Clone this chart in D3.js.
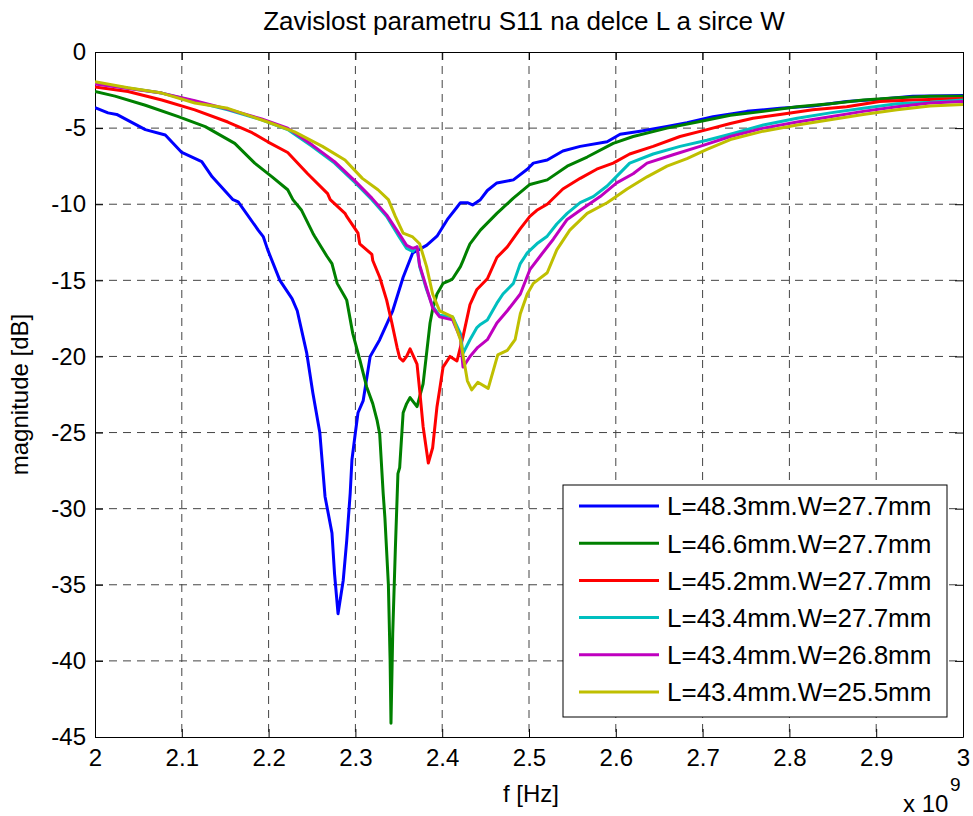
<!DOCTYPE html>
<html>
<head>
<meta charset="utf-8">
<script src="https://d3js.org/d3.v7.min.js"></script>
<style>
  body { margin: 0; background: #fff; }
  svg text { font-family: "Liberation Sans", Arial, sans-serif; fill: #000; }
</style>
</head>
<body>
<svg id="chart" width="973" height="816"></svg>
<script>
  // S11 traces: [f in GHz, magnitude in dB]
  const curveL483W277 = [
    [2.000,-3.66],[2.015,-4.0],[2.025,-4.1],[2.058,-5.1],[2.081,-5.45],[2.100,-6.6],[2.123,-7.2],
    [2.135,-8.2],[2.159,-9.7],[2.165,-9.85],[2.188,-11.7],[2.194,-12.15],[2.199,-13.0],[2.213,-15.0],
    [2.227,-16.2],[2.233,-17.0],[2.244,-19.8],[2.251,-22.4],[2.259,-25.0],[2.265,-29.2],[2.273,-31.6],
    [2.276,-34.3],[2.280,-36.9],[2.286,-34.7],[2.290,-32.1],[2.294,-29.0],[2.296,-26.8],[2.300,-25.0],
    [2.303,-23.7],[2.309,-22.9],[2.317,-20.0],[2.328,-18.9],[2.343,-17.0],[2.355,-14.8],[2.366,-13.2],
    [2.382,-12.7],[2.394,-12.1],[2.406,-11.0],[2.417,-10.2],[2.421,-9.9],[2.429,-9.9],[2.435,-10.05],
    [2.444,-9.7],[2.452,-9.1],[2.463,-8.6],[2.482,-8.4],[2.498,-7.7],[2.505,-7.3],[2.521,-7.1],
    [2.539,-6.5],[2.559,-6.2],[2.590,-5.9],[2.605,-5.4],[2.628,-5.2],[2.659,-4.9],[2.682,-4.65],
    [2.712,-4.25],[2.751,-3.9],[2.789,-3.7],[2.827,-3.55],[2.866,-3.25],[2.904,-3.1],[2.942,-2.9],[3.000,-2.85]
  ];
  const curveL466W277 = [
    [2.000,-2.6],[2.023,-2.9],[2.058,-3.5],[2.096,-4.25],[2.127,-4.9],[2.161,-6.0],[2.184,-7.3],
    [2.204,-8.2],[2.222,-9.05],[2.228,-9.7],[2.238,-10.4],[2.251,-11.9],[2.253,-12.1],[2.267,-13.4],
    [2.273,-13.9],[2.279,-15.2],[2.288,-16.1],[2.290,-16.3],[2.297,-18.5],[2.305,-20.2],[2.313,-22.0],
    [2.320,-23.1],[2.325,-24.2],[2.328,-25.1],[2.332,-29.0],[2.334,-30.6],[2.338,-35.0],[2.340,-40.0],
    [2.341,-44.1],[2.343,-38.2],[2.346,-32.7],[2.349,-27.7],[2.351,-27.3],[2.354,-24.6],[2.355,-23.7],
    [2.359,-23.1],[2.363,-22.7],[2.371,-23.3],[2.378,-21.8],[2.386,-17.8],[2.389,-16.9],[2.394,-15.9],
    [2.397,-15.6],[2.401,-15.2],[2.409,-15.0],[2.412,-14.9],[2.421,-14.1],[2.424,-13.7],[2.429,-13.0],
    [2.432,-12.6],[2.444,-11.7],[2.463,-10.6],[2.482,-9.6],[2.501,-8.7],[2.521,-8.4],[2.544,-7.5],
    [2.567,-6.9],[2.597,-6.0],[2.620,-5.55],[2.659,-5.0],[2.694,-4.6],[2.732,-4.15],[2.770,-3.9],
    [2.809,-3.6],[2.847,-3.4],[2.885,-3.15],[2.924,-3.0],[2.962,-2.9],[3.000,-2.9]
  ];
  const curveL452W277 = [
    [2.000,-2.3],[2.038,-2.6],[2.077,-3.15],[2.115,-3.8],[2.153,-4.6],[2.181,-5.3],[2.199,-5.9],
    [2.222,-6.6],[2.245,-8.0],[2.268,-9.3],[2.271,-9.7],[2.288,-10.6],[2.290,-10.8],[2.303,-11.9],
    [2.305,-12.6],[2.319,-13.3],[2.320,-13.7],[2.328,-14.8],[2.336,-16.3],[2.342,-17.8],[2.348,-19.4],
    [2.351,-20.1],[2.355,-20.3],[2.359,-20.0],[2.363,-19.5],[2.371,-20.5],[2.374,-22.2],[2.378,-24.6],
    [2.384,-27.0],[2.389,-26.0],[2.394,-23.3],[2.397,-22.2],[2.401,-20.7],[2.409,-20.0],[2.417,-20.3],
    [2.424,-18.7],[2.432,-16.6],[2.440,-15.6],[2.452,-14.9],[2.463,-13.5],[2.475,-12.8],[2.490,-11.6],
    [2.501,-10.8],[2.509,-10.4],[2.521,-10.0],[2.539,-9.0],[2.559,-8.3],[2.578,-7.7],[2.597,-7.3],
    [2.616,-6.7],[2.643,-6.2],[2.674,-5.55],[2.705,-5.1],[2.732,-4.7],[2.758,-4.35],[2.789,-4.1],
    [2.827,-3.8],[2.866,-3.6],[2.904,-3.25],[2.942,-3.15],[3.000,-3.05]
  ];
  const curveL434W277 = [
    [2.000,-2.05],[2.077,-2.7],[2.115,-3.25],[2.153,-3.8],[2.192,-4.45],[2.222,-5.1],[2.250,-6.2],
    [2.276,-7.3],[2.300,-8.6],[2.319,-9.7],[2.336,-10.8],[2.351,-12.2],[2.359,-12.9],[2.366,-13.1],
    [2.371,-12.8],[2.374,-14.1],[2.382,-15.6],[2.389,-16.7],[2.397,-17.3],[2.412,-17.4],[2.421,-18.5],
    [2.424,-19.8],[2.432,-18.9],[2.440,-18.1],[2.444,-17.9],[2.452,-17.6],[2.463,-16.5],[2.470,-15.9],
    [2.482,-15.2],[2.490,-13.9],[2.498,-13.2],[2.509,-12.6],[2.521,-12.1],[2.532,-11.3],[2.544,-10.6],
    [2.559,-9.9],[2.574,-9.5],[2.590,-8.8],[2.597,-8.4],[2.616,-7.3],[2.643,-6.7],[2.674,-6.2],
    [2.705,-5.8],[2.735,-5.35],[2.770,-4.8],[2.809,-4.35],[2.847,-4.0],[2.885,-3.7],[2.924,-3.4],
    [2.962,-3.3],[3.000,-3.15]
  ];
  const curveL434W268 = [
    [2.000,-2.1],[2.077,-2.7],[2.115,-3.2],[2.153,-3.75],[2.192,-4.4],[2.222,-5.0],[2.250,-6.1],
    [2.276,-7.2],[2.300,-8.5],[2.319,-9.6],[2.336,-10.7],[2.351,-12.0],[2.359,-12.7],[2.366,-12.9],
    [2.371,-12.8],[2.374,-14.0],[2.382,-15.5],[2.389,-16.8],[2.397,-17.4],[2.412,-17.6],[2.421,-18.8],
    [2.424,-20.7],[2.432,-20.0],[2.441,-19.4],[2.452,-18.9],[2.463,-17.8],[2.475,-17.0],[2.490,-15.9],
    [2.501,-14.3],[2.513,-13.4],[2.528,-12.3],[2.544,-11.0],[2.559,-10.4],[2.582,-9.5],[2.601,-8.6],
    [2.620,-8.0],[2.636,-7.3],[2.666,-6.75],[2.697,-6.2],[2.732,-5.55],[2.770,-5.0],[2.809,-4.6],
    [2.847,-4.25],[2.885,-3.9],[2.924,-3.6],[2.962,-3.35],[3.000,-3.25]
  ];
  const curveL434W255 = [
    [2.000,-1.95],[2.038,-2.35],[2.077,-2.7],[2.115,-3.35],[2.153,-3.7],[2.199,-4.6],[2.230,-5.25],
    [2.262,-6.2],[2.288,-7.1],[2.308,-8.3],[2.326,-9.05],[2.338,-9.7],[2.346,-10.8],[2.355,-11.9],
    [2.366,-12.15],[2.374,-12.6],[2.382,-14.1],[2.389,-15.9],[2.397,-17.0],[2.412,-17.4],[2.421,-18.9],
    [2.429,-21.6],[2.434,-22.2],[2.441,-21.7],[2.453,-22.1],[2.459,-20.9],[2.464,-19.9],[2.475,-19.6],
    [2.484,-18.9],[2.490,-17.2],[2.498,-15.9],[2.505,-15.2],[2.521,-14.5],[2.532,-13.0],[2.547,-11.7],
    [2.567,-10.6],[2.590,-9.9],[2.613,-9.0],[2.636,-8.2],[2.659,-7.5],[2.682,-7.0],[2.705,-6.4],
    [2.732,-5.75],[2.770,-5.2],[2.809,-4.8],[2.847,-4.45],[2.885,-4.1],[2.924,-3.8],[2.962,-3.55],[3.000,-3.45]
  ];

  const legendLabels = [
    "L=48.3mm.W=27.7mm",
    "L=46.6mm.W=27.7mm",
    "L=45.2mm.W=27.7mm",
    "L=43.4mm.W=27.7mm",
    "L=43.4mm.W=26.8mm",
    "L=43.4mm.W=25.5mm"
  ];
  const xTicks = [2, 2.1, 2.2, 2.3, 2.4, 2.5, 2.6, 2.7, 2.8, 2.9, 3];
  const yTicks = [0, -5, -10, -15, -20, -25, -30, -35, -40, -45];

  const allCurves = [curveL483W277, curveL466W277, curveL452W277, curveL434W277, curveL434W268, curveL434W255];
  const lineColors = ["#0000ff", "#008000", "#ff0000", "#00bfbf", "#bf00bf", "#bfbf00"];

  const svg = d3.select("#chart");
  const margin = {left: 95, right: 10, top: 52, bottom: 79};
  const width = +svg.attr("width") - margin.left - margin.right;
  const height = +svg.attr("height") - margin.top - margin.bottom;

  const x = d3.scaleLinear().domain([2, 3]).range([0, width]);
  const y = d3.scaleLinear().domain([-45, 0]).range([height, 0]);

  const g = svg.append("g")
    .attr("transform", "translate(" + margin.left + "," + margin.top + ")");

  // dashed grid (inner ticks only, edges are the frame)
  g.append("g").selectAll("line")
    .data(xTicks.filter(d => d > 2 && d < 3))
    .enter().append("line")
    .attr("x1", d => x(d)).attr("x2", d => x(d))
    .attr("y1", 0).attr("y2", height)
    .attr("stroke", "#444").attr("stroke-dasharray", "8,6");
  g.append("g").selectAll("line")
    .data(yTicks.filter(d => d < 0 && d > -45))
    .enter().append("line")
    .attr("x1", 0).attr("x2", width)
    .attr("y1", d => y(d)).attr("y2", d => y(d))
    .attr("stroke", "#444").attr("stroke-dasharray", "8,6");

  // axes on all four sides, ticks pointing in
  const fmt = d => String(d);
  const axisFont = sel => sel.attr("font-size", 24).attr("font-family", "Liberation Sans, Arial, sans-serif");

  g.append("g").attr("transform", "translate(0," + height + ")")
    .call(d3.axisBottom(x).tickValues(xTicks).tickFormat(fmt).tickSizeInner(-8).tickSizeOuter(0).tickPadding(12))
    .call(axisFont);
  g.append("g")
    .call(d3.axisLeft(y).tickValues(yTicks).tickFormat(fmt).tickSizeInner(-8).tickSizeOuter(0).tickPadding(9))
    .call(axisFont);
  g.append("g")
    .call(d3.axisTop(x).tickValues(xTicks).tickFormat("").tickSizeInner(-8).tickSizeOuter(0));
  g.append("g").attr("transform", "translate(" + width + ",0)")
    .call(d3.axisRight(y).tickValues(yTicks).tickFormat("").tickSizeInner(-8).tickSizeOuter(0));

  // curves
  g.append("clipPath").attr("id", "plotclip")
    .append("rect").attr("width", width).attr("height", height);

  const line = d3.line().x(d => x(d[0])).y(d => y(d[1]));
  g.append("g").attr("clip-path", "url(#plotclip)")
    .selectAll("path")
    .data(allCurves)
    .enter().append("path")
    .attr("d", line)
    .attr("fill", "none")
    .attr("stroke", (d, i) => lineColors[i])
    .attr("stroke-width", 3)
    .attr("stroke-linejoin", "round");

  // legend
  const leg = svg.append("g").attr("transform", "translate(563,485)");
  leg.append("rect")
    .attr("width", 384).attr("height", 232)
    .attr("fill", "#fff").attr("stroke", "#000");
  const rows = leg.selectAll(".row")
    .data(legendLabels)
    .enter().append("g")
    .attr("class", "row")
    .attr("transform", (d, i) => "translate(0," + (21 + i * 37.2) + ")");
  rows.append("line")
    .attr("x1", 16).attr("x2", 96)
    .attr("stroke", (d, i) => lineColors[i])
    .attr("stroke-width", 3);
  rows.append("text")
    .attr("x", 104).attr("dy", "0.36em")
    .attr("font-size", 26)
    .text(d => d);

  // texts
  svg.append("text")
    .attr("x", 524).attr("y", 30)
    .attr("text-anchor", "middle").attr("font-size", 26)
    .text("Zavislost parametru S11 na delce L a sirce W");
  svg.append("text")
    .attr("x", 531).attr("y", 802)
    .attr("text-anchor", "middle").attr("font-size", 24)
    .text("f [Hz]");
  svg.append("text")
    .attr("transform", "translate(28," + (margin.top + height / 2) + ") rotate(-90)")
    .attr("text-anchor", "middle").attr("font-size", 24)
    .text("magnitude [dB]");
  svg.append("text")
    .attr("x", 903).attr("y", 812).attr("font-size", 24)
    .text("x 10");
  svg.append("text")
    .attr("x", 950).attr("y", 791).attr("font-size", 19)
    .text("9");
</script>
</body>
</html>
